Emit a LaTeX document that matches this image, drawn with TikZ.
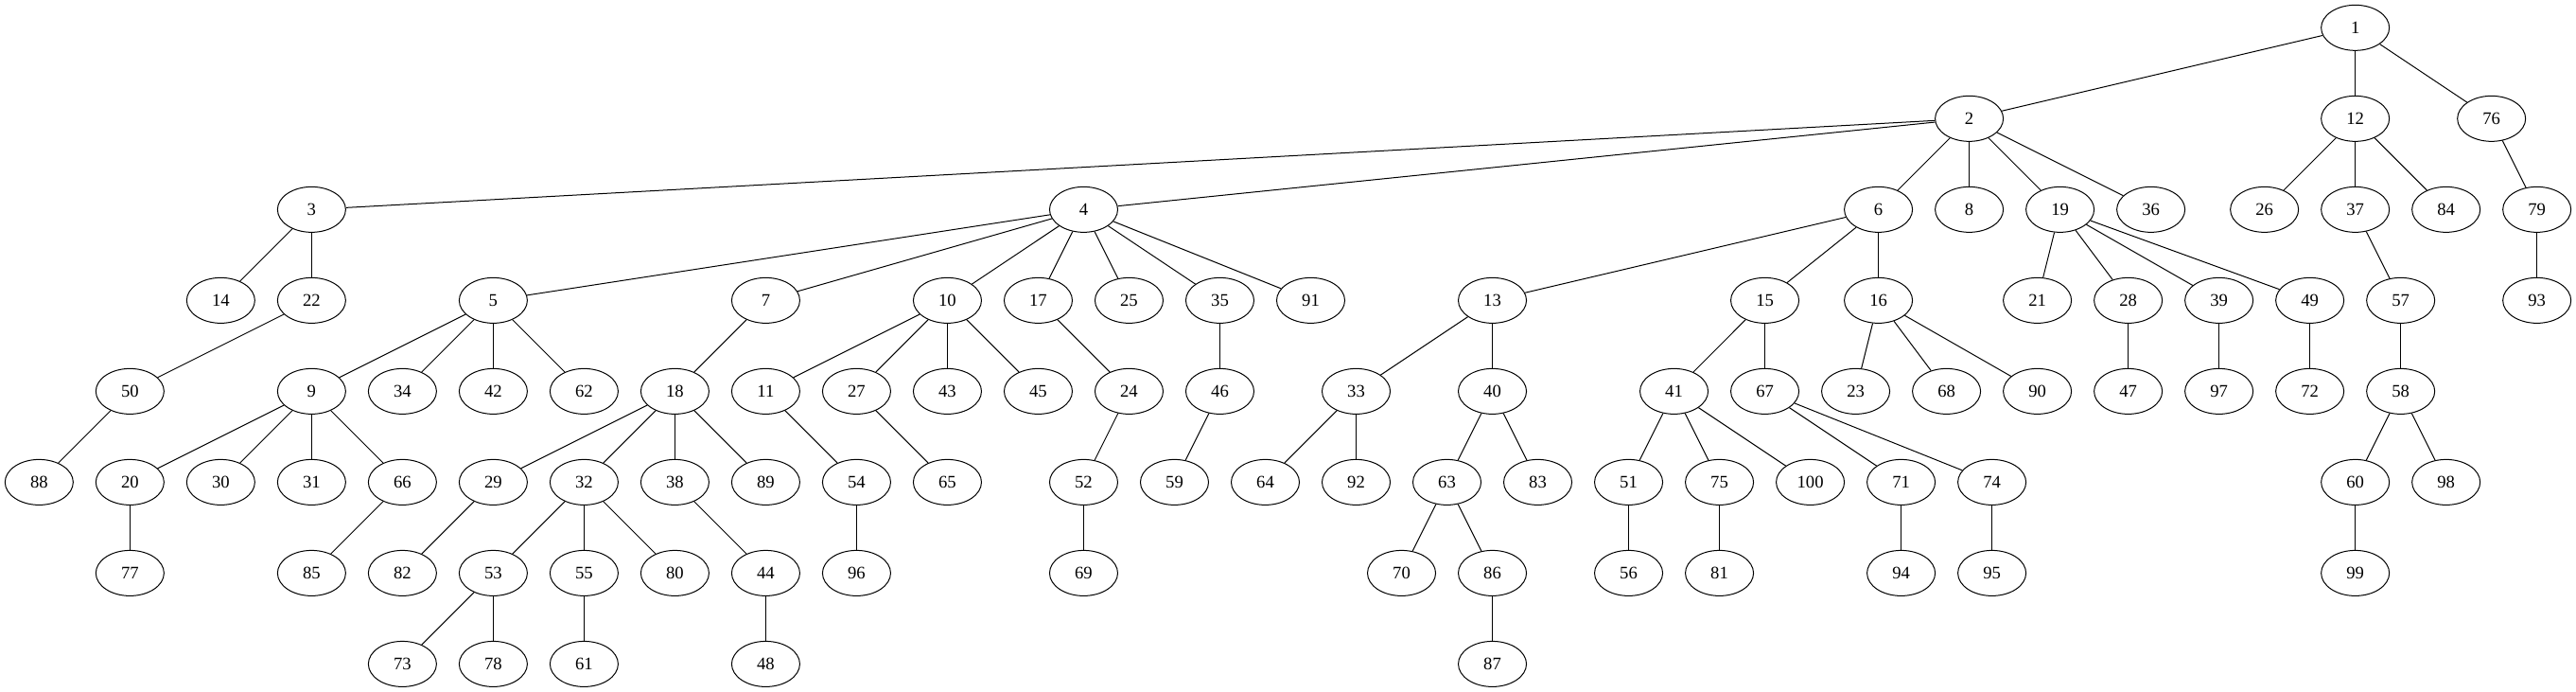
\documentclass[tikz,border=0pt]{standalone}
\usepackage{fontspec}
\setmainfont{Liberation Serif}
\usetikzlibrary{shapes.geometric}
\begin{document}
\begin{tikzpicture}[x=72pt,y=-72pt,
  nd/.style={draw,ellipse,line width=0.75pt,minimum width=54pt,minimum height=36pt,inner sep=0pt,font=\fontsize{14}{16}\selectfont},
  edge/.style={line width=0.75pt}]
\useasboundingbox (-31pt,22pt) rectangle (2011pt,-526pt);
% row 0
\foreach \n/\k in {1/25.5} \node[nd] (n\n) at (\k,0) {\n};
% row 1
\foreach \n/\k in {2/21.25,12/25.5,76/27} \node[nd] (n\n) at (\k,1) {\n};
% row 2
\foreach \n/\k in {3/3,4/11.5,6/20.25,8/21.25,19/22.25,36/23.25,26/24.5,37/25.5,84/26.5,79/27.5} \node[nd] (n\n) at (\k,2) {\n};
% row 3
\foreach \n/\k in {14/2,22/3,5/5,7/8,10/10,17/11,25/12,35/13,91/14,13/16,15/19,16/20.25,21/22,28/23,39/24,49/25,57/26,93/27.5} \node[nd] (n\n) at (\k,3) {\n};
% row 4
\foreach \n/\k in {50/1,9/3,34/4,42/5,62/6,18/7,11/8,27/9,43/10,45/11,24/12,46/13,33/14.5,40/16,41/18,67/19,23/20,68/21,90/22,47/23,97/24,72/25,58/26} \node[nd] (n\n) at (\k,4) {\n};
% row 5
\foreach \n/\k in {88/0,20/1,30/2,31/3,66/4,29/5,32/6,38/7,89/8,54/9,65/10,52/11.5,59/12.5,64/13.5,92/14.5,63/15.5,83/16.5,51/17.5,75/18.5,100/19.5,71/20.5,74/21.5,60/25.5,98/26.5} \node[nd] (n\n) at (\k,5) {\n};
% row 6
\foreach \n/\k in {77/1,85/3,82/4,53/5,55/6,80/7,44/8,96/9,69/11.5,70/15,86/16,56/17.5,81/18.5,94/20.5,95/21.5,99/25.5} \node[nd] (n\n) at (\k,6) {\n};
% row 7
\foreach \n/\k in {73/4,78/5,61/6,48/8,87/16} \node[nd] (n\n) at (\k,7) {\n};
% edges
\foreach \a/\b in {1/2,1/12,1/76,
  2/3,2/4,2/6,2/8,2/19,2/36,
  12/26,12/37,12/84,76/79,79/93,37/57,57/58,58/60,58/98,60/99,
  3/14,3/22,22/50,50/88,
  4/5,4/7,4/10,4/17,4/25,4/35,4/91,
  5/9,5/34,5/42,5/62,9/20,9/30,9/31,9/66,20/77,66/85,
  7/18,18/29,18/32,18/38,18/89,29/82,32/53,32/55,32/80,53/73,53/78,55/61,38/44,44/48,
  10/11,10/27,10/43,10/45,11/54,54/96,27/65,
  17/24,24/52,52/69,35/46,46/59,
  6/13,6/15,6/16,13/33,13/40,33/64,33/92,40/63,40/83,63/70,63/86,86/87,
  15/41,15/67,41/51,41/75,41/100,51/56,75/81,67/71,67/74,71/94,74/95,
  16/23,16/68,16/90,
  19/21,19/28,19/39,19/49,28/47,39/97,49/72}
  \draw[edge] (n\a) -- (n\b);
\end{tikzpicture}
\end{document}
